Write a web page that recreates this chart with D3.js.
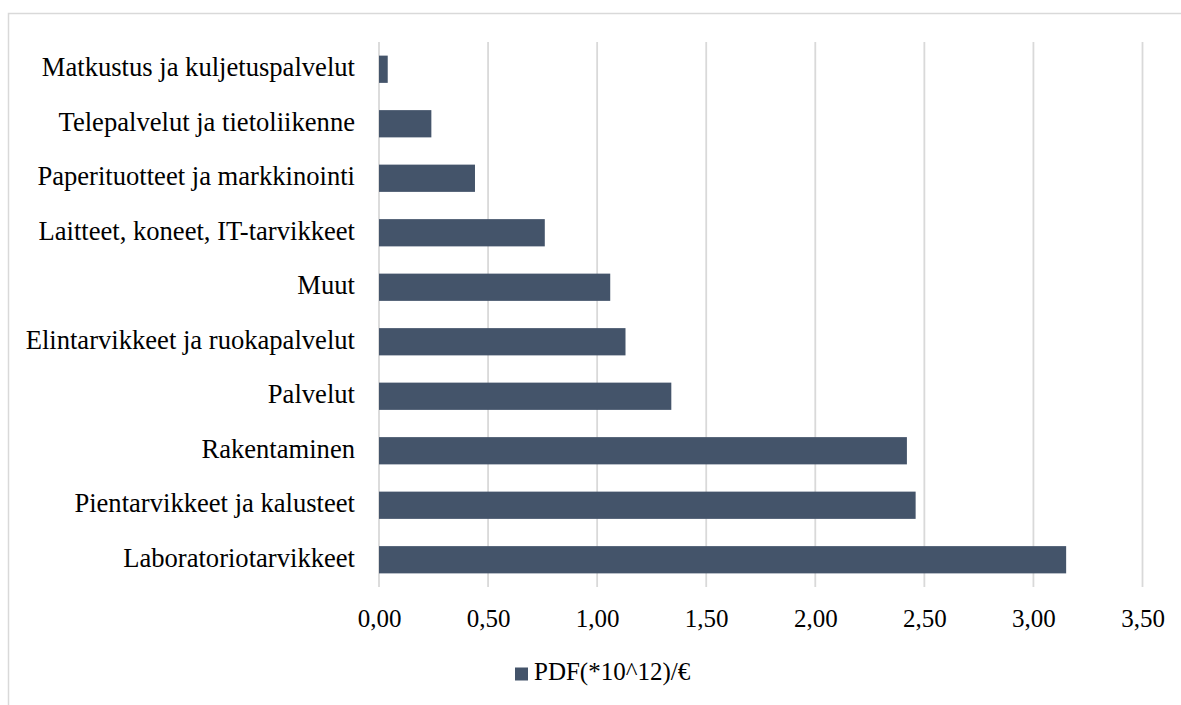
<!DOCTYPE html>
<html>
<head>
<meta charset="utf-8">
<script src="https://cdn.jsdelivr.net/npm/d3@7"></script>
<style>
  html, body { margin: 0; padding: 0; background: #fff; }
  svg { display: block; }
  text { font-family: "Liberation Serif", "Times New Roman", serif; fill: #000; }
</style>
</head>
<body>
<svg id="chart" width="1181" height="705"></svg>
<script>
// Categories, top to bottom as drawn
const categories = [
  "Matkustus ja kuljetuspalvelut",
  "Telepalvelut ja tietoliikenne",
  "Paperituotteet ja markkinointi",
  "Laitteet, koneet, IT-tarvikkeet",
  "Muut",
  "Elintarvikkeet ja ruokapalvelut",
  "Palvelut",
  "Rakentaminen",
  "Pientarvikkeet ja kalusteet",
  "Laboratoriotarvikkeet"
];
const values = [0.04, 0.24, 0.44, 0.76, 1.06, 1.13, 1.34, 2.42, 2.46, 3.15];
const tickValues = [0, 0.5, 1, 1.5, 2, 2.5, 3, 3.5];
const seriesName = "PDF(*10^12)/€";

const W = 1181, H = 705;
const svg = d3.select("#chart");

const barColor = "#44546A";
const gridColor = "#d9d9d9";
const catFontSize = 26.6;
const fontSize = 25;

// Outer chart border (runs off the right and bottom edges)
svg.append("rect")
  .attr("x", 8.5).attr("y", 13.5)
  .attr("width", W + 10).attr("height", H + 10)
  .attr("fill", "none").attr("stroke", gridColor).attr("stroke-width", 1.5);

const plot = { left: 379, right: 1142.5, top: 42, bottom: 587 };

const x = d3.scaleLinear().domain([0, 3.5]).range([plot.left, plot.right]);
const y = d3.scaleBand().domain(categories).range([plot.top, plot.bottom]).paddingInner(0.5).paddingOuter(0.25);

const locale = d3.formatLocale({ decimal: ",", thousands: "\u00a0", grouping: [3], currency: ["", "€"] });
const fmt = locale.format(".2f");

// Vertical gridlines
svg.append("g")
  .selectAll("line")
  .data(tickValues)
  .join("line")
  .attr("x1", d => x(d)).attr("x2", d => x(d))
  .attr("y1", plot.top).attr("y2", plot.bottom)
  .attr("stroke", gridColor).attr("stroke-width", 1.8);

// Bars
svg.append("g")
  .selectAll("rect")
  .data(values)
  .join("rect")
  .attr("x", x(0))
  .attr("y", (d, i) => y(categories[i]))
  .attr("width", d => x(d) - x(0))
  .attr("height", y.bandwidth())
  .attr("fill", barColor);

// Category axis labels
const yAxis = d3.axisLeft(y).tickSize(0).tickPadding(24);
const yg = svg.append("g").attr("transform", `translate(${plot.left},0)`).call(yAxis);
yg.select(".domain").remove();
yg.selectAll("text")
  .attr("font-family", null)
  .style("font-size", catFontSize + "px")
  .attr("dy", "0.27em");

// Value axis labels
const xAxis = d3.axisBottom(x).tickValues(tickValues).tickFormat(fmt).tickSize(0).tickPadding(0);
const xg = svg.append("g").attr("transform", `translate(0,${plot.bottom})`).call(xAxis);
xg.select(".domain").remove();
xg.selectAll("text")
  .attr("font-family", null)
  .style("font-size", fontSize + "px")
  .attr("y", 0)
  .attr("dy", null)
  .attr("transform", "translate(0,39.5)");

// Legend
const legend = svg.append("g");
legend.append("rect")
  .attr("x", 515).attr("y", 667.5)
  .attr("width", 13).attr("height", 13)
  .attr("fill", barColor);
legend.append("text")
  .attr("x", 534).attr("y", 679.5)
  .style("font-size", fontSize + "px")
  .text(seriesName);
</script>
</body>
</html>
